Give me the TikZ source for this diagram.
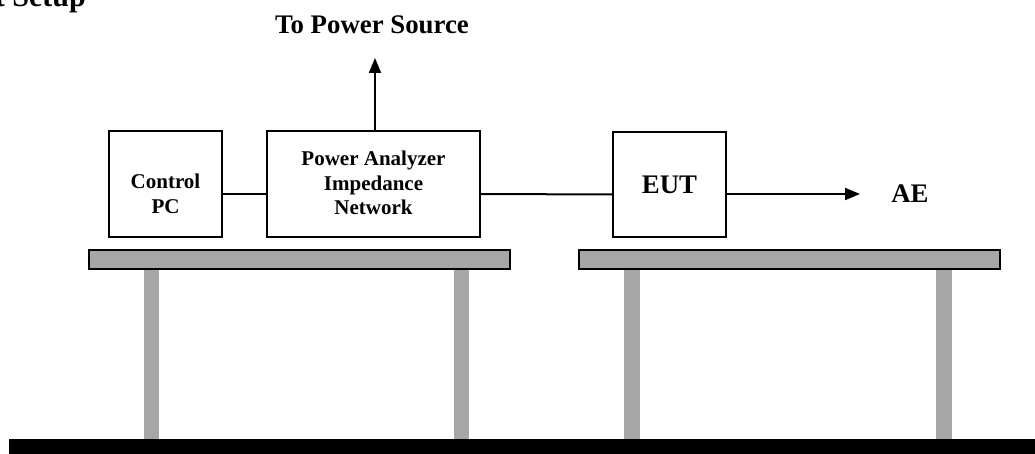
\documentclass[tikz,border=0pt]{standalone}
\usepackage{fontspec}
\setmainfont{Liberation Serif}
\usetikzlibrary{arrows.meta,calc}
\definecolor{tablegray}{HTML}{A6A6A6}
\tikzset{
  unitbox/.style={draw=black, line width=2pt, fill=white, inner sep=0pt},
  boxlabel/.style={font=\bfseries\fontsize{21}{24.5}\selectfont, align=center, inner sep=0pt},
  biglabel/.style={font=\bfseries\fontsize{26.8}{30}\selectfont, inner sep=0pt},
  wire/.style={line width=2pt},
  arrowwire/.style={line width=2pt, -{Triangle[length=15pt,width=12pt]}},
  tabletop/.style={draw=black, line width=2pt, fill=tablegray},
  tableleg/.style={fill=tablegray, draw=none},
}
\begin{document}
\begin{tikzpicture}[x=1pt,y=-1pt]
\useasboundingbox (0,0) rectangle (1035,454);
% cut-off title
\node[font=\bfseries\fontsize{30}{34}\selectfont, inner sep=0pt, anchor=base east] (title) at (86,7) {Test Setup};
% legs
\fill[tableleg] (144,269) rectangle (159,439);
\fill[tableleg] (454,269) rectangle (469,439);
\fill[tableleg] (624,269) rectangle (640,439);
\fill[tableleg] (936,269) rectangle (952,439);
% table tops
\draw[tabletop] (89,250) rectangle (510,269);
\draw[tabletop] (579,250) rectangle (1000,269);
% floor
\fill[black] (9,439) rectangle (1035,454);
% boxes
\node[unitbox, minimum width=113pt, minimum height=106pt] (cpc) at (165.5,184) {};
\node[unitbox, minimum width=213pt, minimum height=106pt] (pa) at (373.5,184) {};
\node[unitbox, minimum width=113pt, minimum height=105pt] (eut) at (669.5,184.5) {};
\node[boxlabel] (cpclabel) at ([yshift=-10pt]cpc.center) {Control\\PC};
\node[boxlabel] (palabel) at ([yshift=1pt]pa.center) {Power Analyzer\\Impedance\\Network};
\node[biglabel] (eutlabel) at (eut.center) {EUT};
% labels
\node[biglabel] (ps) at (372,25) {To Power Source};
\node[biglabel] (ae) at (910,194) {AE};
\coordinate (psend) at (375,58);
\coordinate (aeend) at (860,194);
% connectors
\draw[wire] ([yshift=-10pt]cpc.east) -- ([yshift=-10pt]pa.west);
\draw[wire] ([yshift=-10pt]pa.east) -- ([yshift=-10pt]eut.west);
\draw[arrowwire] (pa.north -| psend) -- (psend);
\draw[arrowwire] ([yshift=-9.5pt]eut.east) -- (aeend);
\end{tikzpicture}
\end{document}
